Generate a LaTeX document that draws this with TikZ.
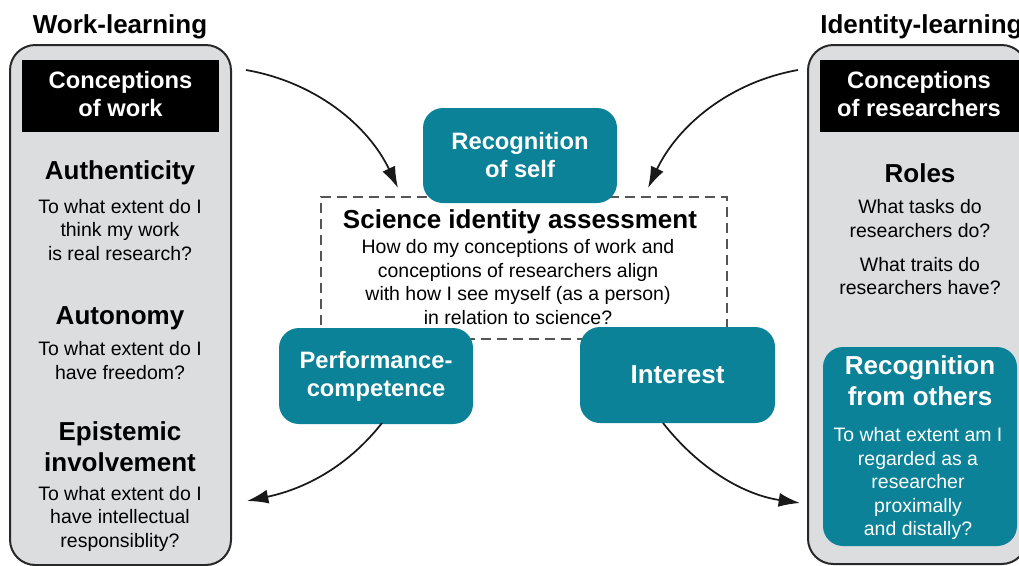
\documentclass[tikz,border=0pt]{standalone}
\usepackage{fontspec}
\setmainfont{Liberation Sans}
\usetikzlibrary{arrows.meta}

\definecolor{idteal}{RGB}{11,130,151}
\definecolor{panelgray}{RGB}{220,221,223}
\definecolor{panelline}{RGB}{40,40,40}
\definecolor{dashgray}{RGB}{85,85,85}

\newcommand{\headfont}{\fontsize{19.5}{23.3}\selectfont\bfseries}
\newcommand{\bodyfont}{\fontsize{14.6}{17.6}\selectfont}
\newcommand{\boxfont}{\fontsize{17.8}{21}\selectfont\bfseries}

\begin{document}
\begin{tikzpicture}[x=0.75pt,y=-0.75pt,
  panel/.style={draw=panelline, fill=panelgray, line width=1.5pt,
    rounded corners=19pt, inner sep=0pt},
  blackbox/.style={fill=black, inner sep=0pt},
  boxtext/.style={text=white, inner sep=0pt, align=center, font=\boxfont},
  tealbox/.style={fill=idteal, text=white, rounded corners=15pt,
    inner sep=0pt, align=center, font=\boxfont},
  heading/.style={font=\headfont, align=center, inner sep=0pt},
  body/.style={font=\bodyfont, align=center, inner sep=0pt},
  flow/.style={-{Latex[length=16pt,width=10.5pt]}, line width=1.3pt,
    draw=black!90}]

\clip (0,0) rectangle (1019,565);

% ---- side panels ----
\node[panel, minimum width=165.75pt, minimum height=390pt] (workpanel) at (120.5,305) {};
\node[panel, minimum width=164.25pt, minimum height=389.25pt] (idpanel) at (917.5,304.5) {};

\node[heading] (worktitle) at (120,27) {Work-learning};
\node[heading, anchor=west] (idtitle) at (820,27) {Identity-learning};

% ---- work-learning column ----
\node[blackbox, minimum width=147.75pt, minimum height=54pt] (conwork) at (120.5,96) {};
\node[boxtext] (conworkt) at (120.5,94) {Conceptions\\of work};
\node[heading] (auth) at (120,173) {Authenticity};
\node[body] (authq) at (120,230) {To what extent do I\\think my work\\is real research?};
\node[heading] (auto) at (120,318) {Autonomy};
\node[body] (autoq) at (120,360.5) {To what extent do I\\have freedom?};
\node[heading] (epi) at (120,447) {Epistemic\\involvement};
\node[body] (epiq) at (120,518.5) {To what extent do I\\have intellectual\\responsiblity?};

% ---- identity-learning column ----
\node[blackbox, minimum width=150pt, minimum height=54pt] (conres) at (920,96) {};
\node[boxtext] (conrest) at (919,94) {Conceptions\\of researchers};
\node[heading] (roles) at (920,173) {Roles};
\node[body] (rolesq1) at (920,218.5) {What tasks do\\researchers do?};
\node[body] (rolesq2) at (920,276) {What traits do\\researchers have?};
\node[tealbox, minimum width=145.5pt, minimum height=149.25pt] (recothers) at (920,446.5) {};
\node[heading, text=white] (recothersh) at (920,381) {Recognition\\from others};
\node[body, text=white] (recothersq) at (918,483.5)
  {To what extent am I\\regarded as a\\researcher\\proximally\\and distally?};

% ---- central assessment ----
\node[draw=dashgray, line width=1.2pt, dash pattern=on 7.5pt off 4.5pt,
  minimum width=304.5pt, minimum height=106.5pt, inner sep=0pt] (assess) at (524,268) {};
\node[heading] (assesst) at (520,222) {Science identity assessment};
\node[body] (assessq) at (518,282)
  {How do my conceptions of work and\\conceptions of researchers align\\with how I see myself (as a person)\\in relation to science?};

\node[tealbox, minimum width=145.5pt, minimum height=71.25pt] (recself) at (520,155.5)
  {Recognition\\of self};
\node[tealbox, minimum width=145.5pt, minimum height=72pt] (perf) at (376,376)
  {Performance-\\competence};
\node[tealbox, minimum width=146.25pt, minimum height=72pt,
  font=\fontsize{19.5}{23.3}\selectfont\bfseries] (interest) at (677.5,375) {Interest};

% ---- flows ----
\coordinate (workout) at (246,70);
\coordinate (assessinL) at (398,188);
\coordinate (idout) at (798,70);
\coordinate (assessinR) at (648,188);
\coordinate (perfout) at (382,423);
\coordinate (workin) at (247,501);
\coordinate (intout) at (663,423);
\coordinate (idin) at (800,503);

\draw[flow] (workout) .. controls (315,82) and (368,125) .. (assessinL);
\draw[flow] (idout) .. controls (730,82) and (678,125) .. (assessinR);
\draw[flow] (perfout) .. controls (345,470) and (300,490) .. (workin);
\draw[flow] (intout) .. controls (700,470) and (745,495) .. (idin);

\end{tikzpicture}
\end{document}
